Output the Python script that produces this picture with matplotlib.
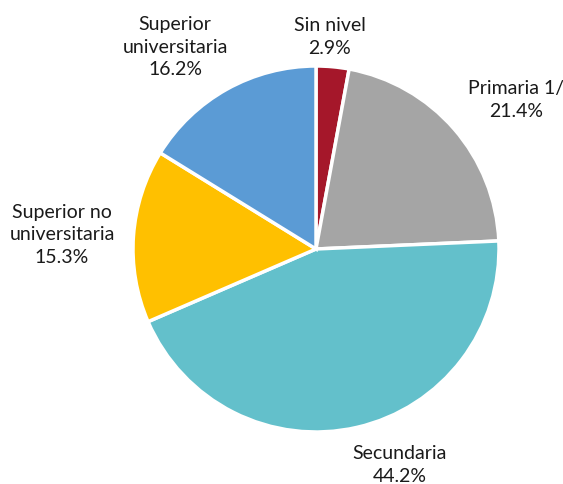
import matplotlib
matplotlib.use("Agg")
import matplotlib.pyplot as plt

categories = ["Sin nivel", "Primaria 1/", "Secundaria", "Superior no\nuniversitaria", "Superior\nuniversitaria"]
shares = [2.9, 21.4, 44.2, 15.3, 16.2]
colors = ["#A5172A", "#A5A5A5", "#63C0CB", "#FFC000", "#5B9BD5"]

# label centres in pixels, relative to the pie centre (x right, y up)
label_offsets = [(14, 213), (200, 150), (84, -215), (-254, 15), (-141, 203)]

W, H = 563, 485
cx, cy, r = 316, 250, 183  # pie centre from top-left, radius (px)

plt.rcParams["font.family"] = ["Lato", "DejaVu Sans"]

fig = plt.figure(figsize=(W / 100, H / 100), dpi=100)
ax = fig.add_axes([0, 0, 1, 1])
ax.pie(shares, colors=colors, startangle=90, counterclock=False, radius=1,
       wedgeprops=dict(edgecolor="white", linewidth=2.5))
ax.set_xlim(-cx / r, (W - cx) / r)
ax.set_ylim(-(H - cy) / r, cy / r)
ax.set_aspect("equal")
ax.axis("off")

for name, val, (dx, dy) in zip(categories, shares, label_offsets):
    ax.text(dx / r, dy / r, f"{name}\n{val:.1f}%", ha="center", va="center",
            fontsize=14, color="#1a1a1a", linespacing=1.42)

fig.savefig("out.png", dpi=100)
